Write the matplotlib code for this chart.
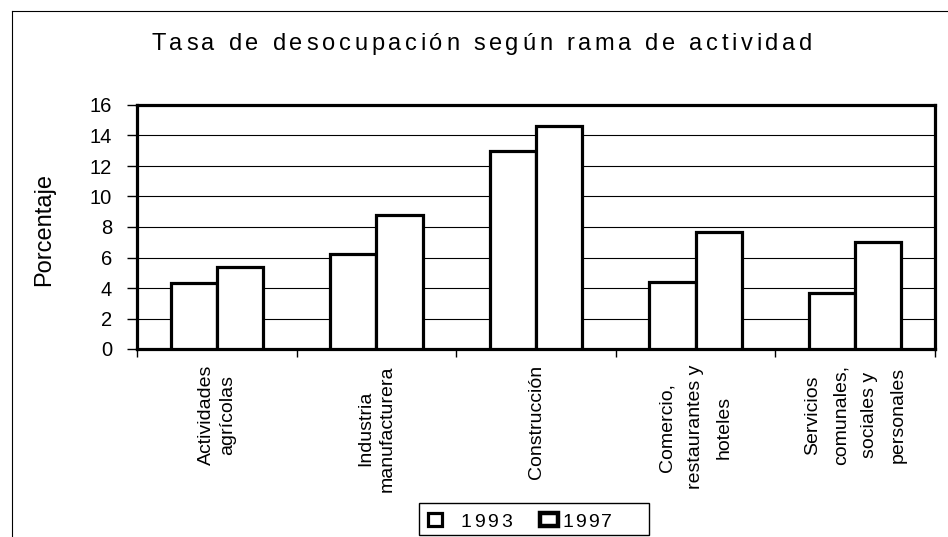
import numpy as np
import matplotlib
matplotlib.use("Agg")
import matplotlib.pyplot as plt
from matplotlib.patches import Rectangle
from matplotlib.lines import Line2D
from matplotlib.font_manager import FontProperties, findfont, get_font

# data
categorias = ["Actividades\nagrícolas",
              "Industria\nmanufacturera",
              "Construcción",
              "Comercio,\nrestaurantes y\nhoteles",
              "Servicios\ncomunales,\nsociales y\npersonales"]
tasa_1993 = [4.3, 6.2, 13.0, 4.4, 3.7]
tasa_1997 = [5.4, 8.8, 14.6, 7.7, 7.0]
yticks = list(range(0, 17, 2))

titulo = "Tasa de desocupación según rama de actividad"
plt.rcParams['font.family'] = ['Liberation Sans', 'DejaVu Sans']

fig = plt.figure(figsize=(9.48, 5.37), dpi=100)
W, H = 948, 537
ax = fig.add_axes([137 / W, 1 - 349 / H, (935 - 137) / W, (349 - 105) / H])


def spaced_text(s, x0, x1, y, size):
    # letter-spaced text between pixel x0 and x1, baseline at pixel y (from top)
    prop = FontProperties(family='Liberation Sans', size=size)
    font = get_font(findfont(prop))
    font.set_size(size, fig.dpi)
    adv = [font.load_char(ord(c)).linearHoriAdvance for c in s]
    probe = fig.text(0, 0, s, fontproperties=prop)
    natural = probe.get_window_extent(fig.canvas.get_renderer()).width
    probe.remove()
    track = (x1 - x0 - natural) / (len(s) - 1)
    pos = 0
    for i, c in enumerate(s):
        x = x0 + pos / sum(adv) * natural + i * track
        fig.text(x / W, 1 - y / H, c, fontproperties=prop, ha='left', va='baseline')
        pos += adv[i]


x = np.arange(len(categorias))
w = 0.29
ax.bar(x - w / 2, tasa_1993, w, color='white', edgecolor='black', linewidth=2.3, zorder=3)
ax.bar(x + w / 2, tasa_1997, w, color='white', edgecolor='black', linewidth=2.3, zorder=3)

ax.set_xlim(-0.5, len(categorias) - 0.5)
ax.set_ylim(0, 16)
ax.set_yticks(yticks)
ax.tick_params(axis='y', labelsize=14.5, length=7, width=1, pad=11)
ax.set_xticks(np.arange(-0.5, len(categorias), 1.0))
ax.set_xticklabels([])
ax.tick_params(axis='x', length=6, width=1)
ax.yaxis.grid(True, color='black', linewidth=0.8)
ax.set_axisbelow(True)
for sp in ax.spines.values():
    sp.set_linewidth(2.3)

ax.set_ylabel("Porcentaje", fontsize=17)
ax.yaxis.set_label_coords((55 - 137) / 798, 0.49)

for i, lab in enumerate(categorias):
    nl = lab.count("\n") + 1
    ax.text(i, -0.066, lab, transform=ax.get_xaxis_transform(), rotation=90,
            ha='center', va='top', multialignment='center', fontsize=14,
            linespacing=1.3 if nl <= 2 else 1.9)

spaced_text(titulo, 151, 812, 50, 17)

# legend
fig.add_artist(Rectangle((419 / W, 1 - 535 / H), 230 / W, 32 / H, transform=fig.transFigure,
                         facecolor='white', edgecolor='black', linewidth=1))
fig.add_artist(Rectangle((428 / W, 1 - 526 / H), 14 / W, 13 / H, transform=fig.transFigure,
                         facecolor='white', edgecolor='black', linewidth=2.3))
fig.add_artist(Rectangle((540 / W, 1 - 526 / H), 18 / W, 13 / H, transform=fig.transFigure,
                         facecolor='white', edgecolor='black', linewidth=3.2))
spaced_text("1993", 460, 512, 527, 14)
spaced_text("1997", 562, 612, 527, 14)

# outer frame of the page
fig.add_artist(Line2D([12 / W, 1], [1 - 11 / H, 1 - 11 / H], transform=fig.transFigure,
                      color='black', linewidth=0.8))
fig.add_artist(Line2D([12 / W, 12 / W], [0, 1 - 11 / H], transform=fig.transFigure,
                      color='black', linewidth=0.8))

fig.savefig("out.png", dpi=100)
